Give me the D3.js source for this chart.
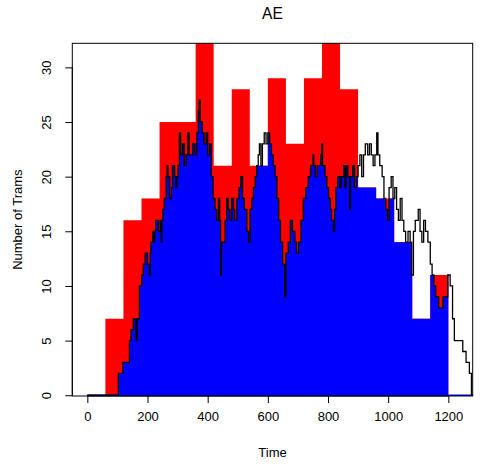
<!DOCTYPE html>
<html>
<head>
<meta charset="utf-8">
<script src="https://cdn.jsdelivr.net/npm/d3@7"></script>
<style>
  html, body { margin: 0; padding: 0; background: #fff; }
  svg text { font-family: "Liberation Sans", Arial, Helvetica, sans-serif; fill: #000; }
</style>
</head>
<body>
<svg id="chart" width="483" height="464"></svg>
<script>
// Tram capacity per 60-unit slot (red) starting at each slot time
const redStart = [60, 120, 180, 240, 300, 360, 420, 480, 540, 600, 660, 720, 780, 840, 900, 960, 1020, 1080, 1140];
const redValues = [7, 16, 18, 25, 25, 33, 21, 28, 21, 29, 23, 29, 33, 28, 19, 18, 14, 7, 11];
const slotWidth = 60;

// Trams actually running (black step line); each value holds from its time onward
const blackTimes = [0, 103, 118, 140, 145, 153, 162, 166, 173, 181, 186, 192, 200, 206, 209, 211, 217, 221, 224, 227,
  236, 242, 246, 248, 251, 256, 262, 265, 268, 274, 280, 283, 290, 294, 298, 302, 306, 310, 316, 322,
  328, 334, 338, 350, 358, 364, 369, 372, 375, 382, 388, 395, 400, 406, 412, 418, 424, 430, 436, 440,
  443, 446, 458, 463, 468, 474, 480, 486, 490, 497, 504, 510, 516, 522, 530, 536, 541, 547, 552, 558,
  563, 568, 572, 577, 582, 588, 594, 600, 606, 612, 618, 624, 630, 636, 642, 649, 656, 660, 668, 675,
  682, 690, 695, 702, 710, 718, 726, 734, 742, 750, 753, 758, 764, 776, 779, 782, 790, 796, 802, 808,
  812, 818, 822, 826, 832, 840, 844, 852, 856, 860, 866, 872, 875, 882, 888, 894, 900, 906, 912, 918,
  924, 932, 938, 944, 950, 956, 962, 966, 972, 980, 986, 992, 998, 1003, 1010, 1016, 1022, 1028, 1034, 1040,
  1046, 1052, 1058, 1066, 1073, 1078, 1084, 1090, 1100, 1106, 1112, 1118, 1124, 1132, 1140, 1146, 1152, 1158, 1168, 1182,
  1198, 1206, 1214, 1220, 1248, 1259, 1270, 1277, 1300];
const blackValues = [0, 2, 3, 5, 6, 7, 5, 7, 10, 11, 12, 13, 12, 11, 13, 14, 15, 14, 15, 16,
  15, 16, 14, 16, 17, 18, 20, 21, 20, 18, 19, 21, 20, 19, 20, 21, 24, 22, 23, 21,
  22, 24, 22, 23, 22, 24, 26, 27, 25, 24, 23, 24, 22, 23, 20, 18, 17, 16, 18, 16,
  11, 14, 16, 18, 17, 16, 18, 17, 16, 18, 19, 20, 18, 17, 15, 14, 17, 18, 19, 20,
  21, 22, 23, 21, 23, 24, 23, 24, 23, 22, 21, 20, 18, 16, 14, 12, 9, 13, 14, 16,
  15, 14, 13, 14, 16, 18, 19, 20, 21, 22, 21, 20, 21, 22, 23, 21, 20, 19, 18, 17,
  16, 15, 17, 19, 20, 19, 20, 21, 19, 21, 20, 17, 20, 21, 19, 20, 21, 22, 20, 22,
  23, 22, 23, 22, 21, 22, 24, 22, 21, 20, 18, 17, 16, 19, 20, 18, 19, 17, 16, 18,
  16, 15, 14, 15, 14, 11, 15, 16, 17, 15, 14, 16, 15, 14, 12, 11, 10, 9, 8, 9,
  11, 10, 7, 5, 4, 3, 2, 0, 0];

const xTicks = [0, 200, 400, 600, 800, 1000, 1200];
const yTicks = [0, 5, 10, 15, 20, 25, 30];
const titleText = "AE";
const xLabel = "Time";
const yLabel = "Number of Trams";

const svg = d3.select("#chart");
const plot = { left: 72.3, right: 472.7, top: 43.3, bottom: 396 };

const x = d3.scaleLinear().domain([-50, 1281]).range([plot.left, plot.right]);
const y = d3.scaleLinear().domain([-0.07, 32.2]).range([plot.bottom, plot.top]);

const defs = svg.append("defs");
defs.append("clipPath").attr("id", "plotClip")
  .append("rect")
  .attr("x", plot.left).attr("y", plot.top)
  .attr("width", plot.right - plot.left).attr("height", plot.bottom - plot.top);

// capacity steps, closed at the end of the last slot
const redPts = redStart.map((t, i) => ({ t, v: redValues[i] }));
redPts.push({ t: redStart[redStart.length - 1] + slotWidth, v: redValues[redValues.length - 1] });
const blackPts = blackTimes.map((t, i) => ({ t, v: blackValues[i] }));

const stepArea = d3.area()
  .curve(d3.curveStepAfter)
  .x(d => x(d.t)).y0(y(0)).y1(d => y(d.v));
const stepLine = d3.line()
  .curve(d3.curveStepAfter)
  .x(d => x(d.t)).y(d => y(d.v));

// served trams: the running count limited by the capacity outline
defs.append("clipPath").attr("id", "capClip")
  .append("path").attr("d", stepArea(redPts));

const g = svg.append("g").attr("clip-path", "url(#plotClip)");

g.append("path").attr("d", stepArea(redPts)).attr("fill", "#ff0000");
g.append("path").attr("d", stepArea(blackPts)).attr("fill", "#0000ff")
  .attr("clip-path", "url(#capClip)");
g.append("line")
  .attr("x1", x(blackTimes[0])).attr("x2", x(blackTimes[blackTimes.length - 1]))
  .attr("y1", y(0)).attr("y2", y(0))
  .attr("stroke", "#0000ff").attr("stroke-width", 1.3);
g.append("path").attr("d", stepLine(blackPts))
  .attr("fill", "none").attr("stroke", "#000").attr("stroke-width", 1.3)
  .attr("stroke-linejoin", "miter");

// frame
svg.append("rect")
  .attr("x", plot.left).attr("y", plot.top)
  .attr("width", plot.right - plot.left).attr("height", plot.bottom - plot.top)
  .attr("fill", "none").attr("stroke", "#000").attr("stroke-width", 1);

// axes
const xAxis = d3.axisBottom(x).tickValues(xTicks).tickSize(7).tickPadding(6).tickFormat(d3.format("d"));
const xg = svg.append("g").attr("transform", `translate(0,${plot.bottom})`).call(xAxis);
xg.select(".domain").attr("d", `M${x(xTicks[0])},0H${x(xTicks[xTicks.length - 1])}`);
xg.selectAll("text").attr("font-size", 13).attr("font-family", "Liberation Sans, Arial, sans-serif")
  .attr("dy", "0.9em");

const yAxis = d3.axisLeft(y).tickValues(yTicks).tickSize(7).tickFormat(d3.format("d"));
const yg = svg.append("g").attr("transform", `translate(${plot.left},0)`).call(yAxis);
yg.select(".domain").attr("d", `M0,${y(yTicks[0])}V${y(yTicks[yTicks.length - 1])}`);
yg.selectAll(".tick text")
  .attr("x", null).attr("dy", null)
  .attr("font-size", 13).attr("font-family", "Liberation Sans, Arial, sans-serif")
  .attr("text-anchor", "middle")
  .attr("dominant-baseline", "central")
  .attr("transform", "translate(-26,0) rotate(-90)");

// titles
svg.append("text")
  .attr("x", (plot.left + plot.right) / 2).attr("y", 19)
  .attr("text-anchor", "middle").attr("font-size", 15.6)
  .text(titleText);
svg.append("text")
  .attr("x", (plot.left + plot.right) / 2).attr("y", 457)
  .attr("text-anchor", "middle").attr("font-size", 13)
  .text(xLabel);
svg.append("text")
  .attr("transform", `translate(17,${(plot.top + plot.bottom) / 2}) rotate(-90)`)
  .attr("text-anchor", "middle").attr("dominant-baseline", "central").attr("font-size", 13)
  .text(yLabel);
</script>
</body>
</html>
